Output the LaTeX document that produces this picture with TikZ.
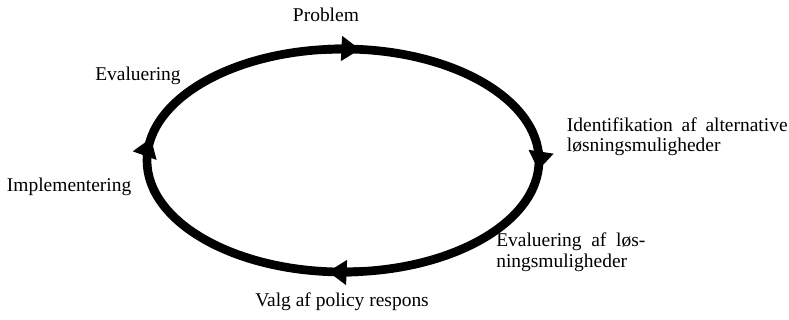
\documentclass[tikz,border=0pt]{standalone}
\usepackage{fontspec}
\setmainfont{Liberation Serif}
\usetikzlibrary{arrows.meta}
\begin{document}
\begin{tikzpicture}[x=0.75pt,y=0.75pt,
  ring/.style={line width=6.5pt},
  cyc/.style={line width=6.5pt,-{Triangle[length=14pt,width=18pt]}},
  lbl/.style={inner sep=0pt,font=\fontsize{14.6}{15.5}\selectfont,align=left}]
\useasboundingbox (0,0) rectangle (789,320);
\coordinate (O) at (343,159.5);
\draw[ring] (O) ellipse[x radius=196,y radius=111.5];
\path (O) ++(168.4:196 and 111.5) coordinate (pL);
\path (O) ++(85:196 and 111.5) coordinate (pT);
\path (O) ++(-5:196 and 111.5) coordinate (pR);
\path (O) ++(-94.4:196 and 111.5) coordinate (pB);
\path (O) ++(178.4:196 and 111.5) coordinate (sL);
\path (O) ++(95:196 and 111.5) coordinate (sT);
\path (O) ++(5:196 and 111.5) coordinate (sR);
\path (O) ++(-84.4:196 and 111.5) coordinate (sB);
\draw[cyc] (sL) arc[start angle=178.4,end angle=168.4,x radius=196,y radius=111.5];
\draw[cyc] (sT) arc[start angle=95,end angle=85,x radius=196,y radius=111.5];
\draw[cyc] (sR) arc[start angle=5,end angle=-5,x radius=196,y radius=111.5];
\draw[cyc] (sB) arc[start angle=-84.4,end angle=-94.4,x radius=196,y radius=111.5];
\node[lbl,anchor=base west] (prob) at (292.7,298.3) {Problem};
\node[lbl,anchor=base west] (eval) at (95,239.3) {Evaluering};
\node[lbl,anchor=base west] (impl) at (6.7,128.3) {Implementering};
\node[lbl,anchor=base west] (ident) at (566.7,168.3) {\makebox[165.5pt][s]{Identifikation af alternative}\\løsningsmuligheder};
\node[lbl,anchor=base west] (evl) at (496,52.7) {\makebox[111.8pt][s]{Evaluering af løs-}\\ningsmuligheder};
\node[lbl,anchor=base west] (valg) at (255,13.3) {Valg af policy respons};
\end{tikzpicture}
\end{document}
